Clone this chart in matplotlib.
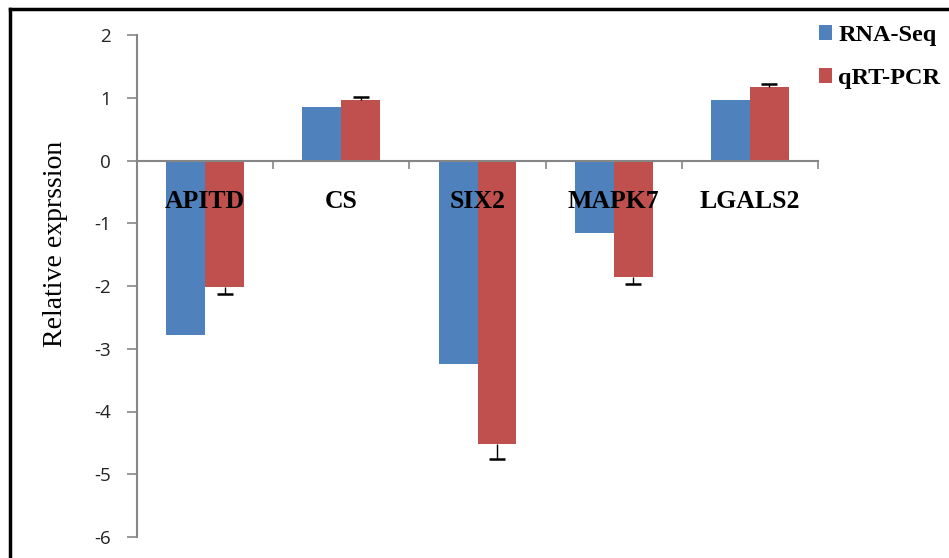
import numpy as np
import matplotlib
matplotlib.use("Agg")
import matplotlib.pyplot as plt
from matplotlib.patches import Patch
from matplotlib.lines import Line2D

plt.rcParams["axes.unicode_minus"] = False  # 用普通连字符作负号

# 数据
genes = ["APITD", "CS", "SIX2", "MAPK7", "LGALS2"]
rna_seq = [-2.78, 0.85, -3.24, -1.15, 0.97]
qrt_pcr = [-2.01, 0.97, -4.51, -1.86, 1.17]
qrt_err = [0.12, 0.04, 0.24, 0.11, 0.05]

BLUE = "#4F81BD"
RED = "#C0504D"
GRAY = "#868686"
SERIF = ["Liberation Serif", "DejaVu Serif"]

W, H = 949, 558
fig = plt.figure(figsize=(W / 100, H / 100), dpi=100)

# 绘图区
left, right, top, bottom = 137, 818, 35, 537
ax = fig.add_axes([left / W, 1 - bottom / H, (right - left) / W, (bottom - top) / H])
ax.set_axisbelow(False)

x = np.arange(len(genes))
bw = 0.286
ax.bar(x - bw / 2, rna_seq, bw, color=BLUE, zorder=2)
ax.bar(x + bw / 2, qrt_pcr, bw, color=RED, zorder=2)

# 误差线只画向外的一侧, 只在外端加横帽
vals = np.array(qrt_pcr)
err = np.array(qrt_err)
ends = vals + np.sign(vals) * err
xr = x + bw / 2
ax.vlines(xr, vals, ends, color="black", lw=1.0, zorder=3)
ax.plot(xr, ends, ls="none", marker="_", markersize=12, markeredgewidth=1.8,
        color="black", zorder=3)

ax.set_xlim(-0.5, len(genes) - 0.5)
ax.set_ylim(-6, 2)
ax.set_yticks(np.arange(-6, 3, 1))
ax.tick_params(axis="y", length=7, width=1.2, color=GRAY, pad=12,
               labelsize=13.5, labelcolor="#222222")
for lab in ax.get_yticklabels():
    lab.set_fontfamily(["Open Sans", "DejaVu Sans"])

for s in ["top", "right"]:
    ax.spines[s].set_visible(False)
ax.spines["left"].set_color(GRAY)
ax.spines["left"].set_linewidth(1.5)
ax.spines["bottom"].set_position(("data", 0))
ax.spines["bottom"].set_color(GRAY)
ax.spines["bottom"].set_linewidth(1.5)

# 分类边界刻度 + 分类名
ax.set_xticks(np.arange(len(genes) + 1) - 0.5)
ax.set_xticklabels([])
ax.tick_params(axis="x", which="major", direction="out", length=6, width=1.2, color=GRAY)
ax.set_xticks(x, minor=True)
ax.set_xticklabels(genes, minor=True, fontsize=18.5, fontweight="bold", family=SERIF)
ax.tick_params(axis="x", which="minor", length=0, pad=21)

fig.text(55 / W, 1 - 244 / H, "Relative exprssion", rotation=90, ha="center",
         va="center", fontsize=20, family=SERIF)

# 图例
handles = [Patch(facecolor=BLUE, edgecolor="none"), Patch(facecolor=RED, edgecolor="none")]
fig.legend(handles, ["RNA-Seq", "qRT-PCR"], loc="upper left",
           bbox_to_anchor=(819 / W, 1 - 25 / H), frameon=False, borderpad=0,
           borderaxespad=0, handlelength=0.55, handleheight=0.55, handletextpad=0.25,
           labelspacing=0.9, prop={"family": SERIF, "weight": "bold", "size": 17.5})

# 外框
fig.add_artist(Line2D([9.5 / W, 9.5 / W], [0, 1 - 8.5 / H], color="black", lw=2.5,
                      transform=fig.transFigure))
fig.add_artist(Line2D([9.5 / W, 1], [1 - 8.5 / H, 1 - 8.5 / H], color="black", lw=2.5,
                      transform=fig.transFigure))

fig.savefig("out.png", dpi=100)
